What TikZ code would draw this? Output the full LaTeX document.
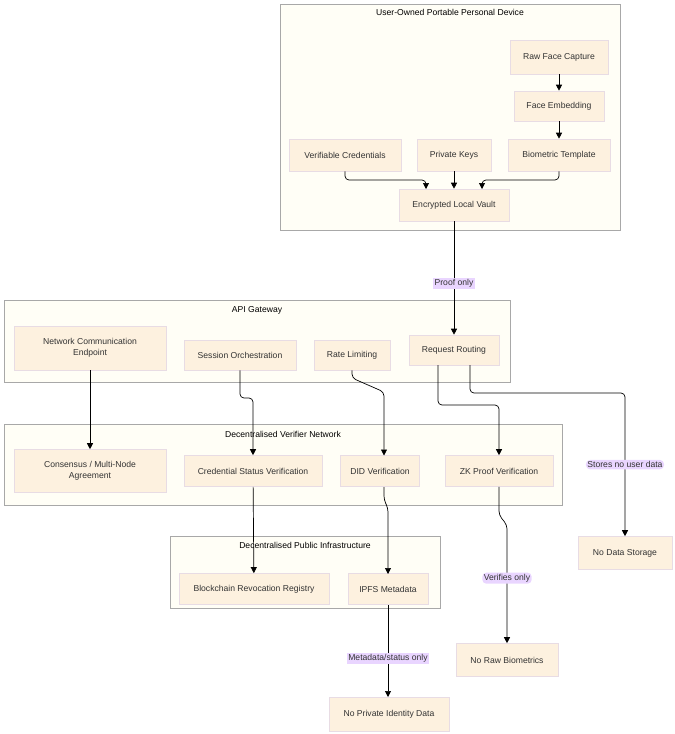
\documentclass[tikz,border=0pt]{standalone}
\usepackage{fontspec}
\setmainfont{Liberation Sans}
\usetikzlibrary{arrows.meta}
\definecolor{nfill}{HTML}{FDF1DF}
\definecolor{nline}{HTML}{E8DCE4}
\definecolor{cfill}{HTML}{FFFEF6}
\definecolor{cline}{HTML}{A8A8A8}
\definecolor{lfill}{HTML}{E9D5FF}
\definecolor{txt}{HTML}{333333}
\begin{document}
\begin{tikzpicture}[x=1pt,y=-1pt,
  box/.style={draw=nline,fill=nfill,line width=0.6pt,font=\fontsize{8.6}{10.5}\selectfont,text=txt,align=center,inner sep=0pt},
  clus/.style={draw=cline,fill=cfill,line width=1pt},
  ctitle/.style={font=\fontsize{8.6}{10.5}\selectfont,text=black},
  lbl/.style={fill=lfill,font=\fontsize{8.6}{10.5}\selectfont,text=txt,inner sep=1.5pt},
  ar/.style={-{Triangle[length=6pt,width=6pt]},line width=0.7pt,black}]
\useasboundingbox (0,0) rectangle (675,734);
% clusters
\draw[clus] (280,4) rectangle (620,230); \node[ctitle] (t1) at (450,12) {User-Owned Portable Personal Device};
\draw[clus] (4,300) rectangle (510,382); \node[ctitle] (t2) at (257,310) {API Gateway};
\draw[clus] (4,424) rectangle (562,505); \node[ctitle] (t3) at (283,434) {Decentralised Verifier Network};
\draw[clus] (170,536) rectangle (440,608); \node[ctitle] (t4) at (305,545) {Decentralised Public Infrastructure};
% nodes
\node[box,minimum width=98,minimum height=34] (raw) at (559,57) {Raw Face Capture};
\node[box,minimum width=90,minimum height=30] (emb) at (559,106) {Face Embedding};
\node[box,minimum width=102,minimum height=32] (bio) at (559,155) {Biometric Template};
\node[box,minimum width=112,minimum height=32] (vc) at (345,155) {Verifiable Credentials};
\node[box,minimum width=74,minimum height=32] (pk) at (454,155) {Private Keys};
\node[box,minimum width=110,minimum height=32] (vault) at (454,205) {Encrypted Local Vault};
\node[box,minimum width=152,minimum height=44] (net) at (90,348) {Network Communication\\Endpoint};
\node[box,minimum width=112,minimum height=30] (sess) at (240,355) {Session Orchestration};
\node[box,minimum width=76,minimum height=30] (rate) at (352,355) {Rate Limiting};
\node[box,minimum width=90,minimum height=30] (rr) at (454,350) {Request Routing};
\node[box,minimum width=152,minimum height=43] (cons) at (90,471) {Consensus / Multi-Node\\Agreement};
\node[box,minimum width=138,minimum height=31] (csv) at (253,471) {Credential Status Verification};
\node[box,minimum width=79,minimum height=31] (did) at (380,471) {DID Verification};
\node[box,minimum width=108,minimum height=31] (zk) at (499,471) {ZK Proof Verification};
\node[box,minimum width=150,minimum height=31] (bc) at (254,589) {Blockchain Revocation Registry};
\node[box,minimum width=80,minimum height=31] (ipfs) at (388,589) {IPFS Metadata};
\node[box,minimum width=94,minimum height=33] (nds) at (625,553) {No Data Storage};
\node[box,minimum width=102,minimum height=33] (nrb) at (507,660) {No Raw Biometrics};
\node[box,minimum width=120,minimum height=34] (npi) at (389,714) {No Private Identity Data};
% anchor coordinates
\coordinate (va) at (426,189);
\coordinate (vb) at (482,189);
\coordinate (rra) at (438,365);
\coordinate (rrb) at (470,365);
\coordinate (dida) at (384,487);
\coordinate (didb) at (384,455.5);
\coordinate (ipfsa) at (388,574);
\coordinate (ipfsb) at (388,605);
\coordinate (npia) at (388,697);
% edges
\draw[ar] (raw) -- (emb);
\draw[ar] (emb) -- (bio);
\draw[ar,rounded corners=4pt] (vc.south) -- (345,180) -- (426,180) -- (va);
\draw[ar] (pk) -- (vault);
\draw[ar,rounded corners=4pt] (bio.south) -- (559,180) -- (482,180) -- (vb);
\draw[ar] (vault) -- node[lbl,pos=0.55] (l1) {Proof only} (rr);
\draw[ar] (net) -- (cons);
\draw[ar,rounded corners=4pt] (sess.south) -- (240,398) -- (253,398) -- (csv.north);
\draw[ar,rounded corners=4pt] (rate.south) -- (352,378) -- (384,392) -- (didb);
\draw[ar,rounded corners=4pt] (rra) -- (438,405) -- (499,405) -- (zk.north);
\draw[ar,rounded corners=4pt] (rrb) -- (470,393) -- (625,393) -- node[lbl,pos=0.5] (l2) {Stores no user data} (nds.north);
\draw[ar] (csv) -- (bc);
\draw[ar,rounded corners=4pt] (dida) -- (384,500) -- (388,508) -- (ipfsa);
\draw[ar,rounded corners=4pt] (zk.south) -- (499,515) -- (507,525) -- node[lbl,pos=0.45] (l3) {Verifies only} (nrb.north);
\draw[ar] (ipfsb) -- node[lbl,pos=0.58] (l4) {Metadata/status only} (npia);
\end{tikzpicture}
\end{document}
